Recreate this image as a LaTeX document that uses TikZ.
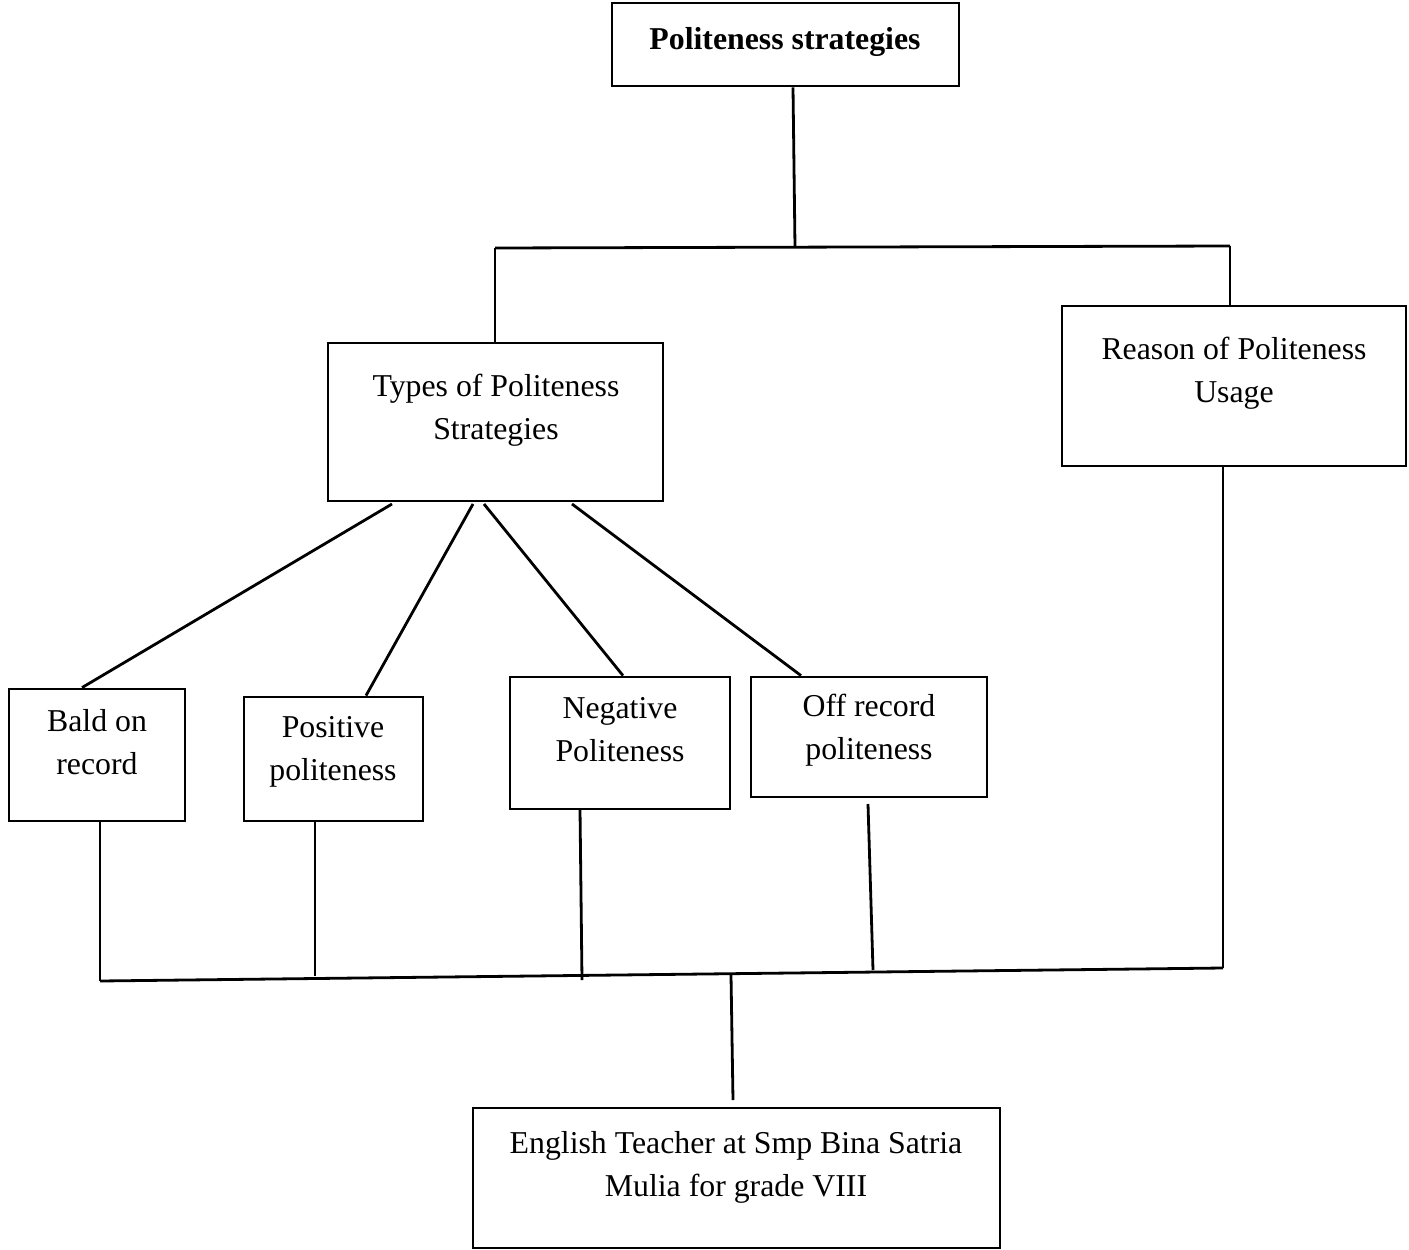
\documentclass[tikz,border=0pt]{standalone}
\usepackage{fontspec}
\setmainfont{Liberation Serif}

\begin{document}
\begin{tikzpicture}[x=1pt,y=-1pt,line width=2.8pt,
  box/.style={draw,rectangle,inner sep=0pt},
  txt/.style={align=center,inner sep=0pt,font=\fontsize{31.8}{43}\selectfont}]
  \useasboundingbox (0,0) rectangle (1409,1250);
  % boxes
  \node[box,minimum width=347pt,minimum height=83pt] (top) at (785.5,44.5) {};
  \node[box,minimum width=335pt,minimum height=158pt] (types) at (495.5,422) {};
  \node[box,minimum width=344pt,minimum height=160pt] (reason) at (1234,386) {};
  \node[box,minimum width=176pt,minimum height=132pt] (bald) at (97,755) {};
  \node[box,minimum width=179pt,minimum height=124pt] (pos) at (333.5,759) {};
  \node[box,minimum width=220pt,minimum height=132pt] (neg) at (620,743) {};
  \node[box,minimum width=236pt,minimum height=120pt] (off) at (869,737) {};
  \node[box,minimum width=527pt,minimum height=140pt] (teacher) at (736.5,1178) {};
  % texts
  \node[txt,font=\fontsize{31.8}{43}\selectfont\bfseries] (topT) at (785,42) {Politeness strategies};
  \node[txt] (typesT) at (496,410) {Types of Politeness\\Strategies};
  \node[txt] (reasonT) at (1234,373) {Reason of Politeness\\Usage};
  \node[txt] (baldT) at (97,742) {Bald on\\record};
  \node[txt] (posT) at (333,752) {Positive\\politeness};
  \node[txt] (negT) at (620,730) {Negative\\Politeness};
  \node[txt] (offT) at (869,730) {Off record\\politeness};
  \node[txt] (teacherT) at (736,1167) {English Teacher at Smp Bina Satria\\Mulia for grade VIII};
  % junctions
  \coordinate (j1) at (795,247);
  \coordinate (jl) at (495,248);
  \coordinate (jr) at (1230,246);
  \coordinate (b1) at (100,981);
  \coordinate (b2) at (315,976);
  \coordinate (b3) at (582,980);
  \coordinate (b4) at (873,970);
  \coordinate (b5) at (1223,968);
  \coordinate (bm) at (731,975);
  % upper tree
  \draw (top.south -| 793,0) -- (j1);
  \draw (jl) -- (jr);
  \draw (jl) -- (types.north -| jl);
  \draw (jr) -- (reason.north -| jr);
  \draw (392,504) -- (bald.north -| 82,0);
  \draw (473,504) -- (pos.north -| 366,0);
  \draw (484,504) -- (neg.north -| 623,0);
  \draw (572,504) -- (off.north -| 801,0);
  % lower tree
  \draw (bald.south -| b1) -- (b1);
  \draw (pos.south -| b2) -- (b2);
  \draw (580,809) -- (b3);
  \draw (868,804) -- (b4);
  \draw (reason.south -| b5) -- (b5);
  \draw (b1) -- (b5);
  \draw (bm) -- (733,1100);
\end{tikzpicture}
\end{document}
